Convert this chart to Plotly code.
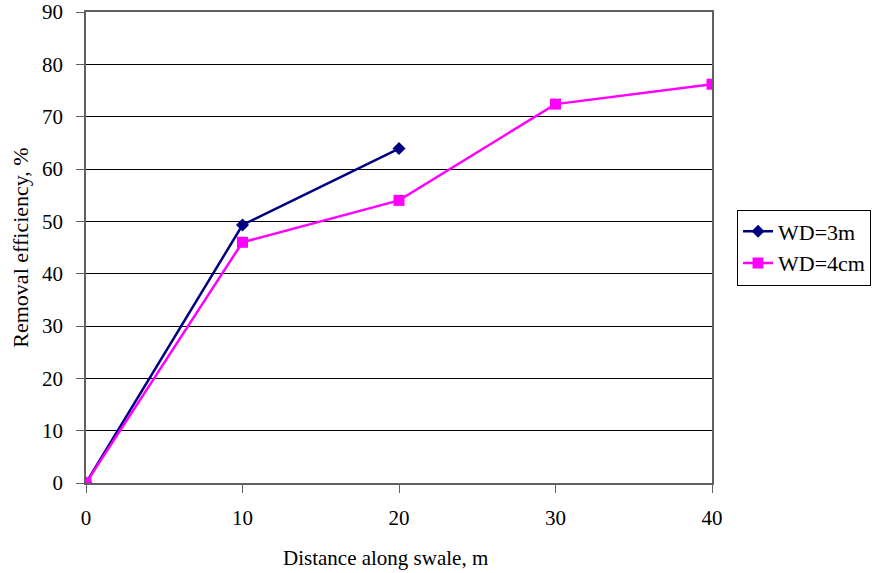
import plotly.graph_objects as go

x_3m = [0, 10, 20]
y_3m = [0, 49.3, 63.9]
x_4cm = [0, 10, 20, 30, 40]
y_4cm = [0, 46.0, 54.0, 72.4, 76.2]

SERIF = "Liberation Serif, Times New Roman, serif"
font = dict(family=SERIF, size=21, color="black")
yfont = dict(family=SERIF, size=22, color="black")
legfont = dict(family=SERIF, size=22, color="black")

fig = go.Figure()
fig.add_trace(go.Scatter(x=x_3m, y=y_3m, mode="lines+markers", name="WD=3m",
                         line=dict(color="#000080", width=2.5),
                         marker=dict(symbol="diamond", size=10, color="#000080")))
fig.add_trace(go.Scatter(x=x_4cm, y=y_4cm, mode="lines+markers", name="WD=4cm",
                         line=dict(color="#FF00FF", width=2.5),
                         marker=dict(symbol="square", size=11, color="#FF00FF")))

fig.update_layout(
    width=878, height=573,
    margin=dict(l=86, r=166, t=12, b=90, autoexpand=False),
    paper_bgcolor="white", plot_bgcolor="white",
    font=font,
    legend=dict(x=1.04, y=0.50, xanchor="left", yanchor="middle",
                bordercolor="black", borderwidth=1, font=legfont,
                tracegroupgap=0, itemwidth=30),
    xaxis=dict(range=[0, 40], tickvals=[0, 10, 20, 30, 40], showgrid=False,
               showline=True, linecolor="#606060", linewidth=1.5, mirror=True,
               ticks="outside", ticklen=8, tickcolor="#606060", zeroline=False,
               tickfont=font, automargin=False, ticklabelstandoff=7),
    yaxis=dict(range=[0, 90], tickvals=list(range(0, 100, 10)), showgrid=True,
               gridcolor="black", gridwidth=1,
               showline=True, linecolor="#606060", linewidth=1.5, mirror=True,
               ticks="outside", ticklen=8, tickcolor="#606060", zeroline=False,
               tickfont=font, automargin=False, ticklabelstandoff=9,
               title=dict(text="Removal efficiency, %", standoff=7, font=yfont)),
    annotations=[dict(text="Distance along swale, m", xref="paper", yref="paper",
                      x=0.478, y=-0.159, xanchor="center", yanchor="middle",
                      showarrow=False, font=font)],
)
fig.write_html("out.html", config={"displayModeBar": False},
               post_script="document.body.style.margin='0';document.body.style.overflow='hidden';")
